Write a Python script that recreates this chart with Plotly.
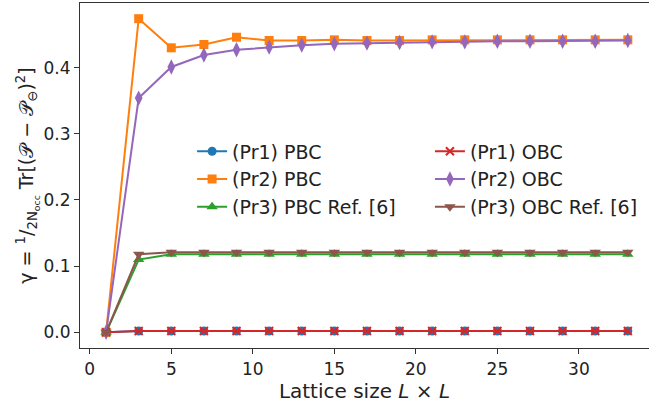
import plotly.graph_objects as go

L = [1, 3, 5, 7, 9, 11, 13, 15, 17, 19, 21, 23, 25, 27, 29, 31, 33]

pr1_pbc = [0.0, 0.002, 0.002, 0.002, 0.002, 0.002, 0.002, 0.002, 0.002, 0.002, 0.002, 0.002, 0.002, 0.002, 0.002, 0.002, 0.002]
pr2_pbc = [0.0, 0.474, 0.430, 0.435, 0.446, 0.441, 0.441, 0.442, 0.441, 0.441, 0.442, 0.442, 0.442, 0.442, 0.442, 0.442, 0.442]
pr3_pbc = [0.0, 0.110, 0.118, 0.118, 0.118, 0.118, 0.118, 0.118, 0.118, 0.118, 0.118, 0.118, 0.118, 0.118, 0.118, 0.118, 0.118]
pr1_obc = [0.0, 0.002, 0.002, 0.002, 0.002, 0.002, 0.002, 0.002, 0.002, 0.002, 0.002, 0.002, 0.002, 0.002, 0.002, 0.002, 0.002]
pr2_obc = [0.0, 0.354, 0.401, 0.419, 0.427, 0.431, 0.434, 0.436, 0.437, 0.438, 0.439, 0.439, 0.440, 0.440, 0.440, 0.440, 0.441]
pr3_obc = [0.0, 0.118, 0.121, 0.121, 0.121, 0.121, 0.121, 0.121, 0.121, 0.121, 0.121, 0.121, 0.121, 0.121, 0.121, 0.121, 0.121]

names = ["(Pr1) PBC", "(Pr2) PBC", "(Pr3) PBC Ref. [6]",
         "(Pr1) OBC", "(Pr2) OBC", "(Pr3) OBC Ref. [6]"]
series = [pr1_pbc, pr2_pbc, pr3_pbc, pr1_obc, pr2_obc, pr3_obc]
colors = ["#1f77b4", "#ff7f0e", "#2ca02c", "#d62728", "#9467bd", "#8c564b"]
symbols = ["circle", "square", "triangle-up", "x-thin", "diamond-tall", "triangle-down"]
sizes = [9, 9, 10, 8, 11, 10]
legends = ["legend", "legend", "legend", "legend2", "legend2", "legend2"]

FONT = "DejaVu Sans"
TXT = "#222222"

fig = go.Figure()
for name, ys, c, s, sz, lg in zip(names, series, colors, symbols, sizes, legends):
    marker = dict(symbol=s, size=sz, color=c)
    if s == "x-thin":
        marker["line"] = dict(width=2, color=c)
    else:
        marker["line"] = dict(width=0)
    fig.add_trace(go.Scatter(x=L, y=ys, mode="lines+markers", name=name,
                             line=dict(color=c, width=2), marker=marker,
                             legend=lg))

axis_common = dict(showgrid=False, zeroline=False, showline=True,
                   linecolor="#333333", linewidth=1.2, ticks="outside",
                   ticklen=5, tickwidth=1.2, tickcolor="#333333",
                   tickfont=dict(family=FONT, size=17, color=TXT))

fig.update_xaxes(range=[-0.6, 34.3], tickvals=[0, 5, 10, 15, 20, 25, 30],
                 mirror=True,
                 title=dict(text="Lattice size <i>L</i> × <i>L</i>",
                            font=dict(family=FONT, size=20, color=TXT),
                            standoff=4),
                 **axis_common)
fig.update_yaxes(range=[-0.0237, 0.4977], tickvals=[0.0, 0.1, 0.2, 0.3, 0.4],
                 tickformat=".1f",
                 title=dict(text="γ = <sup>1</sup>/<sub>2N<sub>occ</sub></sub> Tr[(𝒫 − 𝒫<sub>⊖</sub>)<sup>2</sup>]",
                            font=dict(family=FONT, size=19, color=TXT),
                            standoff=4),
                 **axis_common)

legend_common = dict(bgcolor="rgba(0,0,0,0)", borderwidth=0,
                     font=dict(family=FONT, size=19, color=TXT),
                     xanchor="left", yanchor="top", tracegroupgap=0)

fig.update_layout(
    width=649, height=410,
    margin=dict(l=80, r=0, t=3, b=62),
    plot_bgcolor="white", paper_bgcolor="white",
    legend=dict(x=0.197, y=0.625, **legend_common),
    legend2=dict(x=0.615, y=0.625, **legend_common),
)

fig.write_html("out.html")
